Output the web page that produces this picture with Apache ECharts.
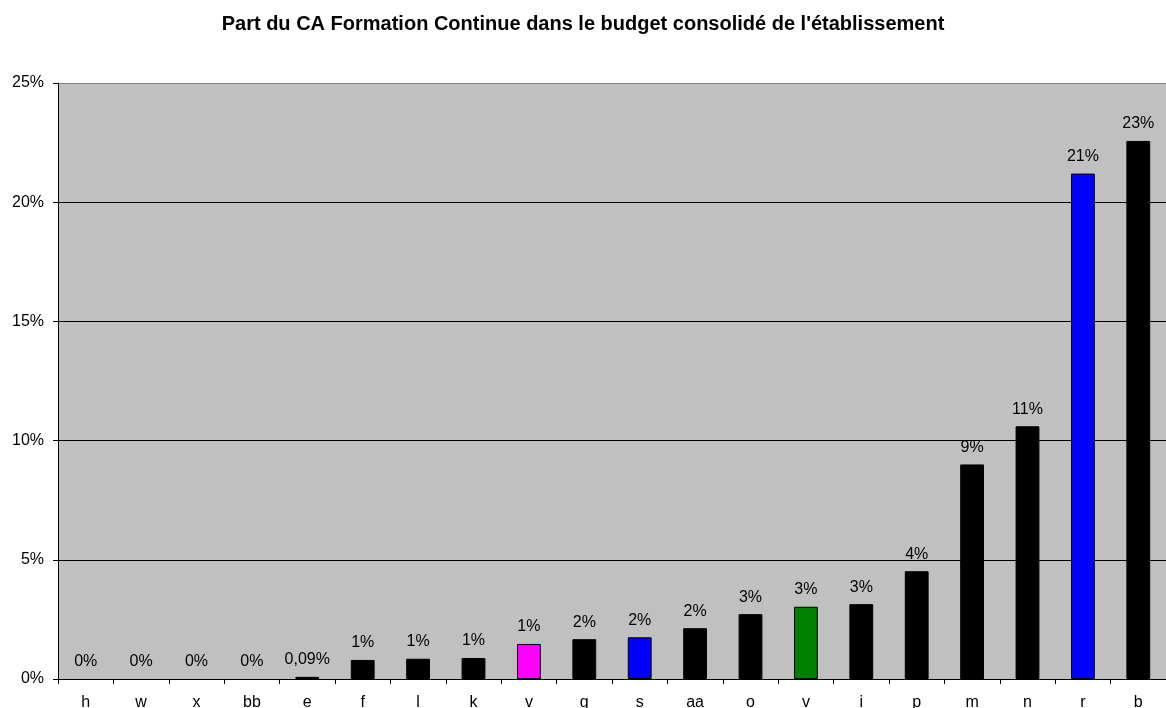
<!DOCTYPE html>
<html>
<head>
<meta charset="utf-8">
<script src="https://cdn.jsdelivr.net/npm/echarts@6/dist/echarts.min.js"></script>
<style>html,body{margin:0;padding:0;background:#fff}#c{width:1166px;height:708px}</style>
</head>
<body>
<div id="c"></div>
<script>
var titleText = "Part du CA Formation Continue dans le budget consolidé de l'établissement";
var categories = ['h','w','x','bb','e','f','l','k','v','g','s','aa','o','v','i','p','m','n','r','b'];
var values = [0, 0, 0, 0, 0.09, 0.80, 0.85, 0.88, 1.47, 1.67, 1.75, 2.13, 2.72, 3.03, 3.14, 4.52, 9.0, 10.6, 21.2, 22.57];
var valueLabels = ['0%','0%','0%','0%','0,09%','1%','1%','1%','1%','2%','2%','2%','3%','3%','3%','4%','9%','11%','21%','23%'];
var barColors = ['#000000','#000000','#000000','#000000','#000000','#000000','#000000','#000000','#FF00FF','#000000','#0000FF','#000000','#000000','#008000','#000000','#000000','#000000','#000000','#0000FF','#000000'];
var yTicks = [0, 5, 10, 15, 20, 25];

var font = 'Arial, "Liberation Sans", sans-serif';
var chart = echarts.init(document.getElementById('c'), null, {renderer: 'canvas'});
chart.setOption({
  animation: false,
  backgroundColor: '#ffffff',
  title: {
    text: titleText, left: 'center', top: 9,
    textStyle: {fontFamily: font, fontSize: 20, fontWeight: 'bold', color: '#000'}
  },
  grid: {left: 58, right: 0, top: 83, bottom: 29, show: true, backgroundColor: '#C0C0C0', borderWidth: 0,
         containLabel: false, outerBoundsMode: 'none'},
  xAxis: {
    type: 'category', data: categories, boundaryGap: true,
    axisLine: {lineStyle: {color: '#000', width: 1}},
    axisTick: {show: true, length: 5, lineStyle: {color: '#000'}},
    axisLabel: {fontFamily: font, fontSize: 16, color: '#000', margin: 16, interval: 0}
  },
  yAxis: {
    type: 'value', min: yTicks[0], max: yTicks[yTicks.length - 1], interval: 5,
    axisLine: {show: true, lineStyle: {color: '#000', width: 1}},
    axisTick: {show: true, length: 5, lineStyle: {color: '#000'}},
    axisLabel: {fontFamily: font, fontSize: 16, color: '#000', margin: 14, formatter: '{value}%'},
    splitLine: {show: true, lineStyle: {color: ['#000','#000','#000','#000','#000','#808080'], width: 1}}
  },
  series: [{
    type: 'bar',
    barWidth: '43%',
    data: values.map(function (v, i) {
      return {value: v, itemStyle: {color: barColors[i], borderColor: '#000', borderWidth: v > 0 ? 1 : 0}};
    }),
    label: {
      show: true, position: 'top', distance: 9,
      fontFamily: font, fontSize: 16, color: '#000',
      formatter: function (p) { return valueLabels[p.dataIndex]; }
    }
  }]
});
</script>
</body>
</html>
